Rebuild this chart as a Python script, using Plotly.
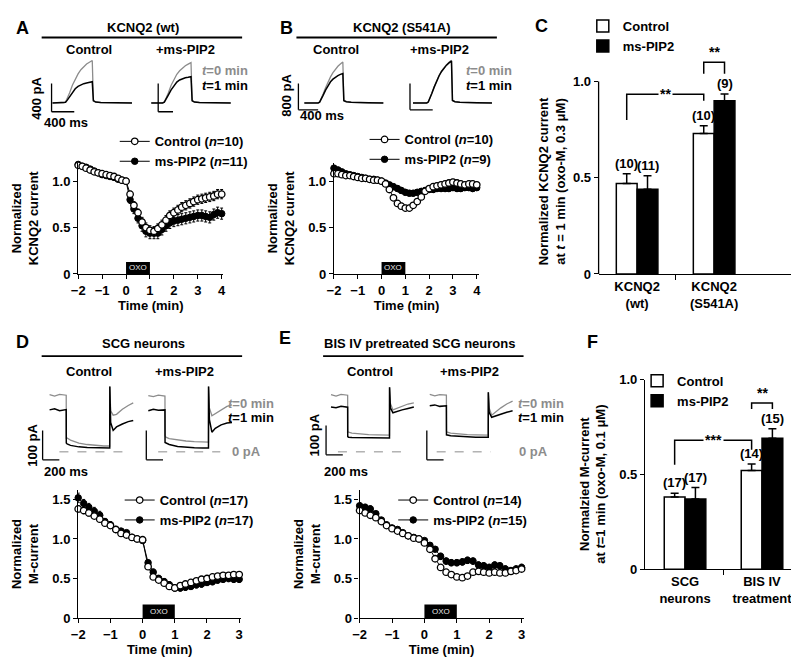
import plotly.graph_objects as go

W, H = 799, 661

# ---------------- DATA ----------------
# time-course sample times (min)
t_AB = [-2, -1.83, -1.67, -1.5, -1.33, -1.17, -1, -0.83, -0.67, -0.5, -0.33, -0.17, 0,
        0.17, 0.33, 0.5, 0.67, 0.83, 1, 1.17, 1.33, 1.5, 1.67, 1.83, 2, 2.17, 2.33, 2.5,
        2.67, 2.83, 3, 3.17, 3.33, 3.5, 3.67, 3.83, 4]
t_DE = [-2, -1.83, -1.67, -1.5, -1.33, -1.17, -1, -0.83, -0.67, -0.5, -0.33, -0.17, 0,
        0.17, 0.33, 0.5, 0.67, 0.83, 1, 1.17, 1.33, 1.5, 1.67, 1.83, 2, 2.17, 2.33, 2.5,
        2.67, 2.83, 3]

A_ctl = [1.17, 1.16, 1.14, 1.12, 1.10, 1.09, 1.08, 1.07, 1.06, 1.05, 1.03, 1.01, 1.00,
         0.86, 0.74, 0.66, 0.56, 0.50, 0.47, 0.46, 0.49, 0.53, 0.58, 0.63, 0.66, 0.69, 0.72,
         0.74, 0.76, 0.78, 0.80, 0.81, 0.82, 0.83, 0.84, 0.86, 0.86]
A_ctl_err = [0.02, 0.02, 0.02, 0.02, 0.02, 0.02, 0.02, 0.02, 0.02, 0.02, 0.02, 0.02, 0.01,
             0.03, 0.04, 0.04, 0.05, 0.05, 0.05, 0.05, 0.05, 0.05, 0.05, 0.05, 0.05, 0.05, 0.05,
             0.05, 0.05, 0.05, 0.05, 0.05, 0.05, 0.05, 0.05, 0.05, 0.05]
A_pip = [1.18, 1.16, 1.15, 1.13, 1.11, 1.09, 1.07, 1.06, 1.05, 1.04, 1.02, 1.01, 1.00,
         0.80, 0.70, 0.60, 0.52, 0.46, 0.44, 0.44, 0.44, 0.48, 0.52, 0.55, 0.57, 0.58, 0.59,
         0.60, 0.61, 0.62, 0.63, 0.63, 0.62, 0.61, 0.64, 0.66, 0.65]
A_pip_err = [0.02, 0.02, 0.02, 0.02, 0.02, 0.02, 0.02, 0.02, 0.02, 0.02, 0.02, 0.02, 0.01,
             0.04, 0.05, 0.05, 0.06, 0.06, 0.06, 0.06, 0.06, 0.06, 0.06, 0.06, 0.06, 0.06, 0.06,
             0.06, 0.06, 0.06, 0.06, 0.06, 0.06, 0.06, 0.06, 0.06, 0.06]

B_ctl = [1.08, 1.08, 1.07, 1.06, 1.06, 1.05, 1.04, 1.03, 1.03, 1.02, 1.01, 1.01, 1.00,
         0.97, 0.91, 0.82, 0.76, 0.73, 0.71, 0.71, 0.74, 0.78, 0.83, 0.89, 0.92, 0.94, 0.95,
         0.96, 0.97, 0.98, 0.99, 0.98, 0.97, 0.96, 0.97, 0.97, 0.96]
B_ctl_err = [0.02, 0.02, 0.02, 0.02, 0.02, 0.02, 0.02, 0.02, 0.02, 0.02, 0.02, 0.02, 0.01,
             0.02, 0.03, 0.03, 0.03, 0.03, 0.03, 0.03, 0.03, 0.03, 0.03, 0.03, 0.03, 0.03, 0.03,
             0.03, 0.03, 0.03, 0.03, 0.03, 0.03, 0.03, 0.03, 0.03, 0.03]
B_pip = [1.14, 1.12, 1.10, 1.08, 1.07, 1.06, 1.05, 1.04, 1.03, 1.02, 1.02, 1.01, 1.00,
         0.98, 0.96, 0.94, 0.92, 0.90, 0.88, 0.87, 0.87, 0.88, 0.89, 0.90, 0.91, 0.91, 0.92,
         0.92, 0.92, 0.92, 0.93, 0.92, 0.92, 0.93, 0.93, 0.92, 0.93]
B_pip_err = [0.03, 0.03, 0.02, 0.02, 0.02, 0.02, 0.02, 0.02, 0.02, 0.02, 0.02, 0.02, 0.01,
             0.02, 0.02, 0.03, 0.03, 0.03, 0.03, 0.03, 0.03, 0.03, 0.03, 0.03, 0.03, 0.03, 0.03,
             0.03, 0.03, 0.03, 0.03, 0.03, 0.03, 0.03, 0.03, 0.03, 0.03]

D_ctl = [1.38, 1.36, 1.33, 1.29, 1.25, 1.20, 1.17, 1.12, 1.07, 1.05, 1.02, 1.00, 0.99,
         0.65, 0.52, 0.48, 0.44, 0.40, 0.38, 0.41, 0.43, 0.45, 0.47, 0.49, 0.50, 0.52, 0.53,
         0.54, 0.54, 0.55, 0.55]
D_ctl_err = [0.04, 0.04, 0.04, 0.03, 0.03, 0.03, 0.03, 0.03, 0.02, 0.02, 0.02, 0.01, 0.01,
             0.02, 0.02, 0.02, 0.02, 0.02, 0.02, 0.02, 0.02, 0.02, 0.02, 0.02, 0.02, 0.02, 0.02,
             0.02, 0.02, 0.02, 0.02]
D_pip = [1.52, 1.45, 1.40, 1.35, 1.30, 1.22, 1.18, 1.12, 1.10, 1.08, 1.02, 1.00, 0.98,
         0.70, 0.58, 0.50, 0.46, 0.42, 0.38, 0.38, 0.39, 0.40, 0.42, 0.43, 0.45, 0.46, 0.48,
         0.49, 0.50, 0.49, 0.49]
D_pip_err = [0.06, 0.05, 0.05, 0.05, 0.05, 0.04, 0.04, 0.03, 0.03, 0.03, 0.02, 0.01, 0.01,
             0.03, 0.04, 0.04, 0.04, 0.04, 0.04, 0.04, 0.04, 0.04, 0.04, 0.04, 0.04, 0.04, 0.04,
             0.04, 0.04, 0.04, 0.04]

E_ctl = [1.36, 1.33, 1.30, 1.27, 1.22, 1.17, 1.13, 1.10, 1.07, 1.04, 1.01, 1.00, 0.95,
         0.87, 0.75, 0.64, 0.58, 0.55, 0.52, 0.51, 0.53, 0.58, 0.59, 0.58, 0.57, 0.58, 0.57,
         0.57, 0.59, 0.60, 0.62]
E_ctl_err = [0.03, 0.03, 0.03, 0.03, 0.03, 0.02, 0.02, 0.02, 0.02, 0.02, 0.01, 0.01, 0.01,
             0.02, 0.02, 0.02, 0.02, 0.02, 0.02, 0.02, 0.02, 0.02, 0.02, 0.02, 0.02, 0.02, 0.02,
             0.02, 0.02, 0.02, 0.02]
E_pip = [1.42, 1.40, 1.38, 1.32, 1.24, 1.18, 1.14, 1.12, 1.08, 1.04, 1.02, 1.00, 0.98,
         0.92, 0.87, 0.78, 0.72, 0.70, 0.70, 0.71, 0.73, 0.72, 0.67, 0.66, 0.64, 0.67, 0.66,
         0.62, 0.60, 0.62, 0.64]
E_pip_err = [0.04, 0.04, 0.04, 0.03, 0.03, 0.03, 0.03, 0.03, 0.02, 0.02, 0.02, 0.01, 0.01,
             0.03, 0.03, 0.04, 0.04, 0.04, 0.04, 0.04, 0.04, 0.04, 0.04, 0.04, 0.04, 0.04, 0.04,
             0.04, 0.04, 0.04, 0.04]

# bar charts
C_groups = ["KCNQ2<br>(wt)", "KCNQ2<br>(S541A)"]
C_ctl = [0.47, 0.73]
C_ctl_err = [0.05, 0.04]
C_pip = [0.44, 0.90]
C_pip_err = [0.07, 0.035]
C_n_ctl = ["(10)", "(10)"]
C_n_pip = ["(11)", "(9)"]

F_groups = ["SCG<br>neurons", "BIS IV<br>treatment"]
F_ctl = [0.38, 0.52]
F_ctl_err = [0.02, 0.035]
F_pip = [0.37, 0.69]
F_pip_err = [0.06, 0.05]
F_n_ctl = ["(17)", "(14)"]
F_n_pip = ["(17)", "(15)"]

# example current traces (time in ms, current in pA)
trA_t = [0, 200, 230, 260, 300, 350, 400, 450, 500, 550, 600, 650, 690, 700, 720, 760, 850, 1000, 1200, 1400]
trA_ctl_t0 = [0, 0, 15, 60, 140, 250, 340, 410, 470, 515, 550, 575, 592, 600, 40, 15, 5, 2, 0, 0]
trA_ctl_t1 = [0, 0, 10, 40, 90, 150, 200, 235, 258, 272, 283, 292, 298, 300, 30, 12, 5, 2, 0, 0]
trA_pip_t0 = [0, 0, 15, 60, 140, 250, 340, 405, 455, 495, 525, 548, 563, 570, 40, 15, 5, 2, 0, 0]
trA_pip_t1 = [0, 0, 12, 50, 110, 185, 250, 295, 325, 343, 355, 362, 367, 370, 30, 12, 5, 2, 0, 0]

trB_t = [0, 280, 310, 340, 380, 430, 480, 530, 580, 630, 680, 730, 770, 780, 800, 850, 950, 1100, 1300, 1600]
trB_ctl_t0 = [0, 0, 30, 120, 270, 460, 640, 790, 920, 1030, 1110, 1180, 1230, 1240, 80, 40, 20, 10, 5, 0]
trB_ctl_t1 = [0, 0, 25, 100, 230, 390, 530, 640, 720, 780, 830, 865, 885, 890, 70, 35, 20, 10, 5, 0]
trB_pip_t0 = [0, 0, 30, 130, 290, 490, 680, 840, 970, 1080, 1160, 1230, 1280, 1290, 80, 40, 20, 10, 5, 0]
trB_pip_t1 = [0, 0, 28, 125, 280, 480, 665, 825, 955, 1065, 1145, 1215, 1262, 1270, 75, 38, 20, 10, 5, 0]

trD_t = [0, 60, 120, 199, 200, 210, 250, 350, 450, 550, 650, 719, 720, 730, 760, 800, 870, 940, 1000]
trD_ctl_t0 = [195, 190, 196, 193, 45, 47, 40, 30, 25, 22, 20, 20, 223, 140, 125, 128, 145, 158, 167]
trD_ctl_t1 = [143, 147, 140, 144, 30, 27, 22, 17, 15, 14, 13, 13, 223, 100, 73, 85, 95, 103, 107]
trD_pip_t0 = [192, 188, 193, 190, 55, 50, 45, 40, 37, 35, 33, 33, 223, 150, 123, 130, 145, 155, 160]
trD_pip_t1 = [140, 145, 142, 143, 32, 30, 25, 18, 15, 14, 13, 13, 223, 110, 67, 80, 92, 98, 100]

trE_t = [0, 60, 120, 199, 200, 210, 250, 350, 450, 550, 650, 699, 700, 710, 740, 780, 850, 920, 990]
trE_ctl_t0 = [195, 190, 196, 193, 70, 67, 64, 61, 59, 58, 57, 57, 220, 165, 143, 148, 157, 163, 167]
trE_ctl_t1 = [153, 150, 155, 152, 52, 50, 49, 48, 48, 47, 47, 47, 220, 150, 133, 137, 143, 148, 153]
trE_pip_t0 = [196, 191, 195, 193, 70, 67, 64, 61, 59, 58, 57, 57, 203, 150, 125, 135, 150, 163, 173]
trE_pip_t1 = [157, 160, 155, 157, 58, 57, 55, 53, 51, 50, 50, 50, 203, 135, 118, 122, 128, 135, 140]

GRAY = "#8c8c8c"
FS = 13


def px(x):
    return x / W


def py(y):
    return 1 - y / H


fig = go.Figure()

# ---------------- time courses ----------------
def add_timecourse(xa, ya, t, ctl, ctl_err, pip, pip_err, ctl_name, pip_name, legend):
    fig.add_trace(go.Scatter(
        x=t, y=pip, mode="lines+markers", name=pip_name, legend=legend, legendrank=2,
        xaxis=xa, yaxis=ya, cliponaxis=False,
        line=dict(color="black", width=1),
        marker=dict(symbol="circle", size=6.5, color="black", line=dict(color="black", width=1)),
        error_y=dict(type="data", array=pip_err, color="black", thickness=1, width=1.5)))
    fig.add_trace(go.Scatter(
        x=t, y=ctl, mode="lines+markers", name=ctl_name, legend=legend, legendrank=1,
        xaxis=xa, yaxis=ya, cliponaxis=False,
        line=dict(color="black", width=1),
        marker=dict(symbol="circle", size=6.5, color="white", line=dict(color="black", width=1.3)),
        error_y=dict(type="data", array=ctl_err, color="black", thickness=1, width=1.5)))


add_timecourse("x", "y", t_AB, A_ctl, A_ctl_err, A_pip, A_pip_err,
               "Control (<i>n</i>=10)", "ms-PIP2 (<i>n</i>=11)", "legend")
add_timecourse("x2", "y2", t_AB, B_ctl, B_ctl_err, B_pip, B_pip_err,
               "Control (<i>n</i>=10)", "ms-PIP2 (<i>n</i>=9)", "legend2")
add_timecourse("x4", "y4", t_DE, D_ctl, D_ctl_err, D_pip, D_pip_err,
               "Control (<i>n</i>=17)", "ms-PIP2 (<i>n</i>=17)", "legend4")
add_timecourse("x5", "y5", t_DE, E_ctl, E_ctl_err, E_pip, E_pip_err,
               "Control (<i>n</i>=14)", "ms-PIP2 (<i>n</i>=15)", "legend5")

# ---------------- bar charts ----------------
def add_bars(xa, ya, ctl, ctl_err, pip, pip_err, legend):
    fig.add_trace(go.Bar(
        x=[0, 1], y=ctl, name="Control", legend=legend, xaxis=xa, yaxis=ya,
        marker=dict(color="white", line=dict(color="black", width=1.5)),
        error_y=dict(type="data", array=ctl_err, arrayminus=[0, 0], symmetric=False,
                     color="black", thickness=1.5, width=4)))
    fig.add_trace(go.Bar(
        x=[0, 1], y=pip, name="ms-PIP2", legend=legend, xaxis=xa, yaxis=ya,
        marker=dict(color="black", line=dict(color="black", width=1.5)),
        error_y=dict(type="data", array=pip_err, arrayminus=[0, 0], symmetric=False,
                     color="black", thickness=1.5, width=4)))


add_bars("x3", "y3", C_ctl, C_ctl_err, C_pip, C_pip_err, "legend3")
add_bars("x6", "y6", F_ctl, F_ctl_err, F_pip, F_pip_err, "legend6")

# ---------------- example traces ----------------
TRACE_BOX = {
    7: dict(x0=26, x1=126, y0=40, y1=104, ox=38, oy=90, msp=17.4, pap=13.8),
    8: dict(x0=128, x1=228, y0=40, y1=104, ox=138, oy=90, msp=17.4, pap=13.8),
    9: dict(x0=280, x1=382, y0=40, y1=104, ox=293, oy=90, msp=20, pap=29.6),
    10: dict(x0=390, x1=492, y0=40, y1=104, ox=403, oy=90, msp=20, pap=29.6),
    11: dict(x0=22, x1=126, y0=372, y1=462, ox=35, oy=447, msp=11.8, pap=3.33),
    12: dict(x0=127, x1=229, y0=372, y1=462, ox=135, oy=447, msp=11.8, pap=3.33),
    13: dict(x0=306, x1=410, y0=372, y1=462, ox=320, oy=447, msp=11.8, pap=3.33),
    14: dict(x0=411, x1=512, y0=372, y1=462, ox=420, oy=447, msp=11.8, pap=3.33),
}

TRACES = {
    7: (trA_t, trA_ctl_t0, trA_ctl_t1),
    8: (trA_t, trA_pip_t0, trA_pip_t1),
    9: (trB_t, trB_ctl_t0, trB_ctl_t1),
    10: (trB_t, trB_pip_t0, trB_pip_t1),
    11: (trD_t, trD_ctl_t0, trD_ctl_t1),
    12: (trD_t, trD_pip_t0, trD_pip_t1),
    13: (trE_t, trE_ctl_t0, trE_ctl_t1),
    14: (trE_t, trE_pip_t0, trE_pip_t1),
}

for k, (tt, g0, g1) in TRACES.items():
    fig.add_trace(go.Scatter(x=tt, y=g0, mode="lines", line=dict(color=GRAY, width=1.3),
                             xaxis=f"x{k}", yaxis=f"y{k}", showlegend=False, hoverinfo="skip"))
    fig.add_trace(go.Scatter(x=tt, y=g1, mode="lines", line=dict(color="black", width=1.5),
                             xaxis=f"x{k}", yaxis=f"y{k}", showlegend=False, hoverinfo="skip"))

# ---------------- layout axes ----------------
layout = dict(
    width=W, height=661, autosize=False,
    margin=dict(l=0, r=0, t=0, b=0),
    paper_bgcolor="white", plot_bgcolor="rgba(0,0,0,0)",
    font=dict(family="Liberation Sans, Arial, sans-serif", size=FS, color="black", weight="bold"),
    barmode="group", bargap=0.46, bargroupgap=0,
    showlegend=True,
)

AX = dict(showgrid=False, zeroline=False, showline=True, linecolor="black", linewidth=1.3,
          ticks="outside", ticklen=4, tickwidth=1.3, tickcolor="black",
          tickfont=dict(size=FS))


def tc_axes(n, xdom, ydom, xrange, yrange, xticks, yticks, ytext, ytitle):
    sfx = "" if n == 1 else str(n)
    layout[f"xaxis{sfx}"] = dict(AX, domain=[px(xdom[0]), px(xdom[1])], range=xrange,
                                 anchor=f"y{sfx}", tickmode="array", tickvals=xticks,
                                 title=dict(text="Time (min)", standoff=4, font=dict(size=FS)))
    layout[f"yaxis{sfx}"] = dict(AX, domain=[py(ydom[0]), py(ydom[1])], range=yrange,
                                 anchor=f"x{sfx}", tickmode="array", tickvals=yticks,
                                 ticktext=ytext,
                                 title=dict(text=ytitle, standoff=10, font=dict(size=FS)))


tc_axes(1, (64, 211), (265, 151), [-2, 4.07], [0, 1.2], [-2, -1, 0, 1, 2, 3, 4],
        [0, 0.5, 1.0], ["0", "0.5", "1.0"], "Normalized<br>KCNQ2 current")
tc_axes(2, (323, 470), (265, 151), [-2, 4.1], [0, 1.2], [-2, -1, 0, 1, 2, 3, 4],
        [0, 0.5, 1.0], ["0", "0.5", "1.0"], "Normalized<br>KCNQ2 current")
tc_axes(4, (64, 229), (617, 486), [-2, 3.06], [0, 1.62], [-2, -1, 0, 1, 2, 3],
        [0, 0.5, 1.0, 1.5], ["0", "0.5", "1.0", "1.5"], "Normalized<br>M-current")
tc_axes(5, (349, 515), (617, 486), [-2, 3.06], [0, 1.62], [-2, -1, 0, 1, 2, 3],
        [0, 0.5, 1.0, 1.5], ["0", "0.5", "1.0", "1.5"], "Normalized<br>M-current")


def bar_axes(n, xdom, ydom, xrange, yrange, groups, show_yline):
    layout[f"xaxis{n}"] = dict(AX, domain=[px(xdom[0]), px(xdom[1])], range=xrange,
                               anchor=f"y{n}", tickmode="array", tickvals=[0, 1],
                               ticktext=groups, ticks="",
                               minor=dict(tickmode="array", tickvals=[0.5], ticks="outside",
                                          ticklen=5, tickwidth=1.3, tickcolor="black"))
    layout[f"yaxis{n}"] = dict(AX, domain=[py(ydom[0]), py(ydom[1])], range=yrange,
                               anchor=f"x{n}", tickmode="array", tickvals=[0, 0.5, 1.0],
                               ticktext=["0", "0.5", "1.0"], showline=show_yline)


bar_axes(3, (591, 793), (265, 28.6), [-0.5, 2.09], [0, 1.2], C_groups, False)
bar_axes(6, (638, 797), (567, 373), [-0.52, 1.52], [0, 1.0], F_groups, True)

for k, b in TRACE_BOX.items():
    layout[f"xaxis{k}"] = dict(visible=False, domain=[px(b["x0"]), px(b["x1"])],
                               range=[(b["x0"] - b["ox"]) * b["msp"], (b["x1"] - b["ox"]) * b["msp"]],
                               anchor=f"y{k}")
    layout[f"yaxis{k}"] = dict(visible=False, domain=[py(b["y1"]), py(b["y0"])],
                               range=[(b["oy"] - b["y1"]) * b["pap"], (b["oy"] - b["y0"]) * b["pap"]],
                               anchor=f"x{k}")


def leg(x, y):
    return dict(x=px(x), y=py(y), xanchor="left", yanchor="top", bgcolor="rgba(0,0,0,0)",
                font=dict(size=FS), itemwidth=30, tracegroupgap=0)


layout["legend"] = leg(101, 114)
layout["legend2"] = leg(354, 112)
layout["legend3"] = leg(575, -4)
layout["legend4"] = leg(106, 481)
layout["legend5"] = leg(383, 481)
layout["legend6"] = leg(630, 359)

fig.update_layout(**layout)

# ---------------- shapes ----------------
shapes = []
# header underlines
for x0, x1, y in [(27, 230, 23), (285, 488, 23), (27, 230, 349), (312, 515, 349)]:
    shapes.append(dict(type="line", xref="paper", yref="paper", x0=px(x0), x1=px(x1),
                       y0=py(y), y1=py(y), line=dict(color="black", width=1.8)))

# OXO bars
for xa, ya, h in [("x", "y", 0.13), ("x2", "y2", 0.13), ("x4", "y4", 0.17), ("x5", "y5", 0.17)]:
    shapes.append(dict(type="rect", xref=xa, yref=ya, x0=0, x1=1, y0=0, y1=h,
                       fillcolor="black", line=dict(width=0)))

# scale bars: (axis, x0, y0, dx, dy)
SCALE = [(7, -17, -124, 400, 400), (8, 122, -124, 261, 400),
         (9, -120, -207, 400, 800), (10, -60, -207, 460, 800),
         (11, -83, -27, 200, 100), (12, -24, -27, 200, 100),
         (13, -59, -10, 200, 100), (14, -35, -27, 200, 100)]
for k, x0, y0, dxv, dyv in SCALE:
    shapes.append(dict(type="line", xref=f"x{k}", yref=f"y{k}", x0=x0, x1=x0, y0=y0, y1=y0 + dyv,
                       line=dict(color="black", width=1.3)))
    shapes.append(dict(type="line", xref=f"x{k}", yref=f"y{k}", x0=x0, x1=x0 + dxv, y0=y0, y1=y0,
                       line=dict(color="black", width=1.3)))

# zero-current dashed lines
for k, a, b in [(11, 118, 944), (12, 118, 860), (13, 83, 850), (14, 83, 732)]:
    shapes.append(dict(type="line", xref=f"x{k}", yref=f"y{k}", x0=a, x1=b, y0=0, y1=0,
                       line=dict(color=GRAY, width=1, dash="dash")))

# C y-axis line up to 1.0
shapes.append(dict(type="line", xref="x3 domain", yref="y3", x0=0, x1=0, y0=0, y1=1.0,
                   line=dict(color="black", width=1.3)))

HALF = 0.135  # half bar width offset within group


# significance brackets
def bracket(xa, ya, xl, xr, ytop, yl, yr):
    shapes.append(dict(type="path", xref=xa, yref=ya,
                       path=f"M{xl},{yl} L{xl},{ytop} L{xr},{ytop} L{xr},{yr}",
                       line=dict(color="black", width=1.5)))


bracket("x3", "y3", 0 - HALF, 1 - HALF, 0.934, 0.80, 0.90)
bracket("x3", "y3", 1 - HALF, 1 + HALF, 1.10, 1.04, 1.04)
bracket("x6", "y6", 0 - HALF, 1 - HALF, 0.68, 0.55, 0.63)
bracket("x6", "y6", 1 - HALF, 1 + HALF, 0.876, 0.845, 0.845)

fig.update_layout(shapes=shapes)

# ---------------- annotations ----------------
anns = []


def ann(text, x, y, size=FS, color="black", xanchor="center", yanchor="middle", angle=0, **kw):
    anns.append(dict(text=text, x=px(x), y=py(y), xref="paper", yref="paper", showarrow=False,
                     xanchor=xanchor, yanchor=yanchor, textangle=angle,
                     font=dict(size=size, color=color), **kw))


for lbl, x, y in [("A", 8, 13), ("B", 275, 13), ("C", 533, 11), ("D", 8, 335), ("E", 273, 331), ("F", 585, 335)]:
    ann(lbl, x, y, size=18)

ann("KCNQ2 (wt)", 130, 13)
ann("KCNQ2 (S541A)", 392, 13)
ann("SCG neurons", 130, 336)
ann("BIS IV pretreated SCG neurons", 410, 336)
for x, y, t in [(75, 35, "Control"), (173, 35, "+ms-PIP2"), (325, 35, "Control"), (430, 35, "+ms-PIP2"),
                (75, 365, "Control"), (172, 365, "+ms-PIP2"), (359, 365, "Control"), (460, 365, "+ms-PIP2")]:
    ann(t, x, y)

ann("<i>t</i>=0 min", 238, 57, color=GRAY, xanchor="right")
ann("<i>t</i>=1 min", 238, 72, xanchor="right")
ann("<i>t</i>=0 min", 505, 57, color=GRAY, xanchor="right")
ann("<i>t</i>=1 min", 505, 72, xanchor="right")
ann("<i>t</i>=0 min", 214, 398, color=GRAY, xanchor="left")
ann("<i>t</i>=1 min", 214, 412, xanchor="left")
ann("<i>t</i>=0 min", 507, 398, color=GRAY, xanchor="left")
ann("<i>t</i>=1 min", 507, 412, xanchor="left")
ann("0 pA", 234, 447, color=GRAY)
ann("0 pA", 508, 447, color=GRAY, xanchor="left")

ann("400 pA", 21, 85, angle=-90)
ann("400 ms", 52, 110)
ann("800 pA", 275, 82, angle=-90)
ann("400 ms", 311, 103)
ann("100 pA", 17, 440, angle=-90)
ann("200 ms", 52, 467)
ann("100 pA", 303, 430, angle=-90)
ann("200 ms", 335, 467)

ann("Normalized KCNQ2 current<br>at <i>t</i> = 1 min (oxo-M, 0.3 μM)", 544, 170, angle=-90)
ann("Normalzied M-current<br>at <i>t</i>=1 min (oxo-M, 0.1 μM)", 585, 480, angle=-90)

fig.update_layout(annotations=anns)

# OXO labels and bar annotations in data coordinates
for xa, ya, h in [("x", "y", 0.13), ("x2", "y2", 0.13), ("x4", "y4", 0.17), ("x5", "y5", 0.17)]:
    fig.add_annotation(text="OXO", x=0.5, y=h / 2, xref=xa, yref=ya, showarrow=False,
                       font=dict(size=8, color="#e6e6e6", weight="normal"))

for xa, ya, ctl, ce, pip, pe, nc, npp in [("x3", "y3", C_ctl, C_ctl_err, C_pip, C_pip_err, C_n_ctl, C_n_pip),
                                          ("x6", "y6", F_ctl, F_ctl_err, F_pip, F_pip_err, F_n_ctl, F_n_pip)]:
    for i in range(2):
        fig.add_annotation(text=nc[i], x=i - HALF, y=ctl[i] + ce[i], xref=xa, yref=ya,
                           showarrow=False, yanchor="bottom", yshift=1)
        fig.add_annotation(text=npp[i], x=i + HALF, y=pip[i] + pe[i], xref=xa, yref=ya,
                           showarrow=False, yanchor="bottom", yshift=1)

fig.add_annotation(text="**", x=0.5 - HALF, y=0.934, xref="x3", yref="y3", showarrow=False,
                   bgcolor="white", font=dict(size=14))
fig.add_annotation(text="**", x=1, y=1.10, xref="x3", yref="y3", showarrow=False,
                   yanchor="bottom", font=dict(size=14))
fig.add_annotation(text="***", x=0.5 - HALF, y=0.68, xref="x6", yref="y6", showarrow=False,
                   bgcolor="white", font=dict(size=14))
fig.add_annotation(text="**", x=1, y=0.876, xref="x6", yref="y6", showarrow=False,
                   yanchor="bottom", font=dict(size=14))

fig.write_html("out.html", config={"displayModeBar": False})
